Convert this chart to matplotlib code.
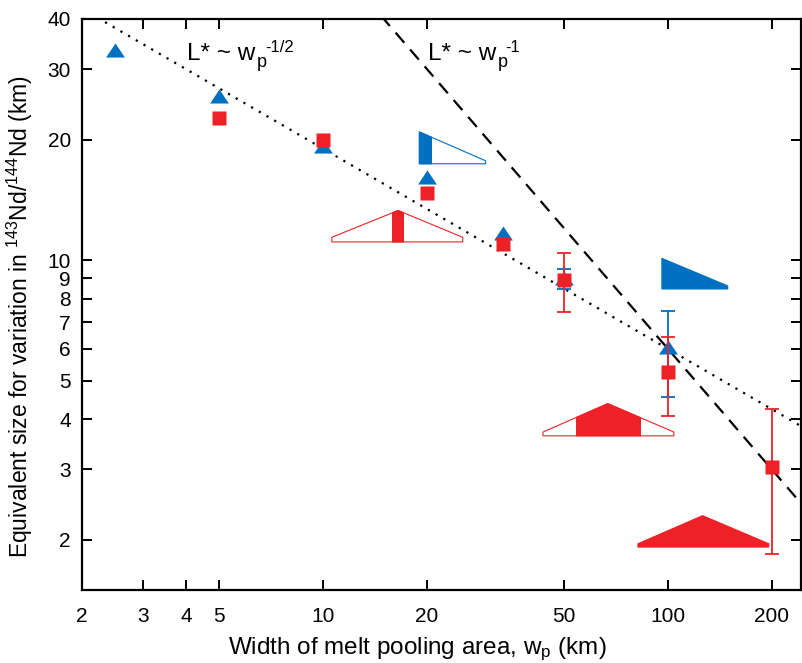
import numpy as np
import matplotlib
matplotlib.use("Agg")
import matplotlib.pyplot as plt
from matplotlib.patches import Polygon, Rectangle

plt.rcParams['font.family'] = ['Liberation Sans', 'DejaVu Sans']
plt.rcParams['mathtext.default'] = 'regular'

BLUE = '#0070c0'
RED = '#ee2127'

# model results (width of pooling area vs equivalent size)
blue_w = [2.5, 5, 10, 20, 33.3, 50, 100]
blue_L = [33.5, 25.7, 19.3, 16.1, 11.7, 9.0, 6.05]
red_w = [5, 10, 20, 33.3, 50, 100, 200]
red_L = [22.7, 20.0, 14.7, 11.0, 8.9, 5.24, 3.05]

# error ranges (lower, upper)
blue_err_w = [50, 100]
blue_err_lo = [8.47, 4.55]
blue_err_hi = [9.5, 7.47]
red_err_w = [50, 100, 200]
red_err_lo = [7.4, 4.07, 1.85]
red_err_hi = [10.4, 6.44, 4.25]

# scaling lines L* ~ wp^-1/2 and L* ~ wp^-1
coef_half = 60.0
coef_one = 600.0

fig = plt.figure(figsize=(8.02, 6.63), dpi=100)
ax = fig.add_axes([82 / 802, 73 / 663, 719 / 802, 571 / 663])
ax.set_xscale('log')
ax.set_yscale('log')
ax.set_xlim(2, 243)
ax.set_ylim(1.5, 40)

w = np.logspace(np.log10(2), np.log10(243), 200)
ax.plot(w, coef_half * w ** -0.5, color='black', ls=(0, (1, 3)), lw=1.6)
ax.plot(w, coef_one / w, color='black', ls=(0, (6, 4)), lw=1.6)


def pool_icon(verts, color, span=None):
    if span is None:
        ax.add_patch(Polygon(verts, closed=True, fc=color, ec=color, lw=0.8, zorder=3))
        return
    ax.add_patch(Polygon(verts, closed=True, fc='white', ec=color, lw=0.8, zorder=3))
    solid = Polygon(verts, closed=True, fc=color, ec=color, lw=0.8, zorder=3)
    ax.add_patch(solid)
    clip = Rectangle((span[0], 1.0), span[1] - span[0], 100, transform=ax.transData)
    solid.set_clip_path(clip)


pool_icon([(19, 17.4), (19, 20.9), (29.6, 17.7), (29.6, 17.4)], BLUE, (19, 20.7))
pool_icon([(10.6, 11.1), (10.6, 11.4), (16.5, 13.3), (25.4, 11.4), (25.4, 11.1)], RED, (15.8, 17.2))
pool_icon([(96, 8.47), (96, 10.1), (149, 8.62), (149, 8.47)], BLUE)
pool_icon([(43.4, 3.64), (43.4, 3.72), (66.9, 4.38), (104, 3.72), (104, 3.64)], RED, (54.1, 83.4))
pool_icon([(81.8, 1.92), (81.8, 1.957), (126, 2.30), (196, 1.957), (196, 1.92)], RED)

tri = [(-1, -0.75), (1, -0.75), (0, 0.75)]

# blue first, red on top
b_mid = np.array([blue_L[blue_w.index(v)] for v in blue_err_w])
ax.errorbar(blue_err_w, b_mid, yerr=[b_mid - np.array(blue_err_lo), np.array(blue_err_hi) - b_mid],
            fmt='none', ecolor=BLUE, elinewidth=1.3, capsize=5, capthick=1.3, zorder=4)
ax.plot(blue_w, blue_L, ls='none', marker=tri, ms=13.5, color=BLUE, mec='none', zorder=5)

r_mid = np.array([red_L[red_w.index(v)] for v in red_err_w])
ax.errorbar(red_err_w, r_mid, yerr=[r_mid - np.array(red_err_lo), np.array(red_err_hi) - r_mid],
            fmt='none', ecolor=RED, elinewidth=1.3, capsize=5, capthick=1.3, zorder=6)
ax.plot(red_w, red_L, ls='none', marker='s', ms=9.5, color=RED, mec='none', zorder=7)

xt = [2, 3, 4, 5, 10, 20, 50, 100, 200]
yt = [2, 3, 4, 5, 6, 7, 8, 9, 10, 20, 30, 40]
ax.set_xticks(xt)
ax.set_xticklabels([str(v) for v in xt])
ax.set_yticks(yt)
ax.set_yticklabels([str(v) for v in yt])
ax.minorticks_off()
ax.tick_params(which='both', direction='in', top=True, right=True, length=7, width=1.4,
               labelsize=15)
ax.tick_params(axis='x', pad=12)
ax.tick_params(axis='y', pad=8)
for s in ax.spines.values():
    s.set_linewidth(1.6)

ax.set_xlabel('Width of melt pooling area, w$_p$ (km)', fontsize=17.5)
ax.set_ylabel('Equivalent size for variation in $^{143}$Nd/$^{144}$Nd (km)', fontsize=16.5)
ax.xaxis.set_label_coords(0.4666, -0.08)
ax.yaxis.set_label_coords(-0.066, 0.478)


# scaling-law labels: "L* ~ w" with subscript p and an exponent set high
def law_label(x, y, exponent):
    main = ax.text(x, y, 'L* ~ w', fontsize=17.5, va='baseline', ha='left')
    fig.canvas.draw()
    bb = main.get_window_extent(fig.canvas.get_renderer())
    base = ax.transData.transform((x, y))[1]
    ax.annotate('p', xy=(bb.x1, base), xycoords='figure pixels', xytext=(1, -5),
                textcoords='offset points', fontsize=13, va='baseline', ha='left')
    ax.annotate(exponent, xy=(bb.x1, base), xycoords='figure pixels', xytext=(7, 6),
                textcoords='offset points', fontsize=12, va='baseline', ha='left')


law_label(4.03, 31.6, '-1/2')
law_label(20.1, 31.6, '-1')

fig.savefig('out.png', dpi=100)
